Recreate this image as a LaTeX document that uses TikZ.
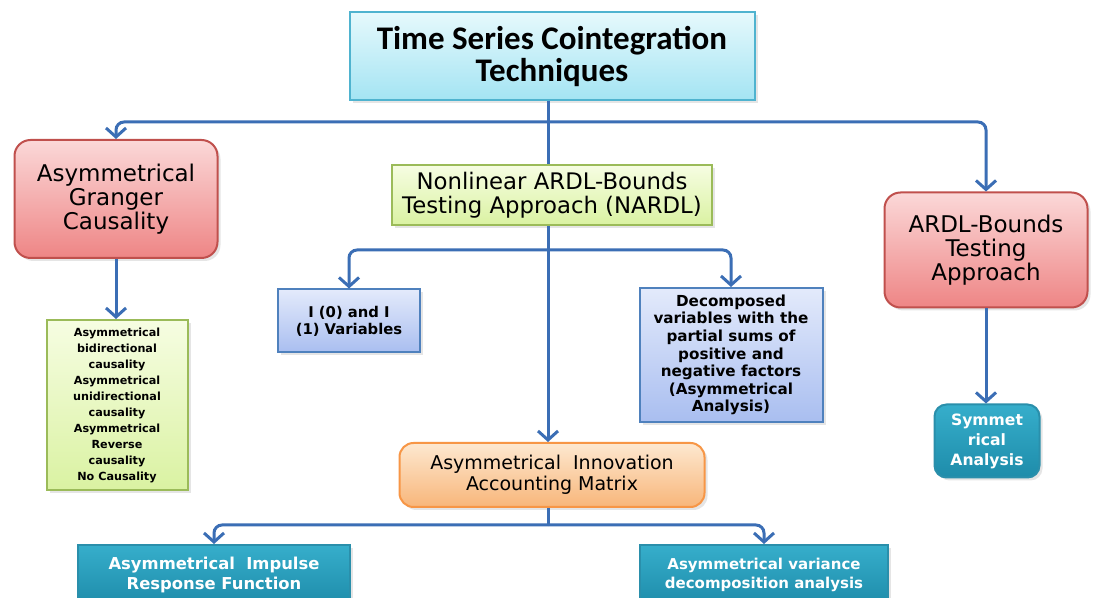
\documentclass[tikz,border=0pt]{standalone}
\usepackage{fontspec}
\setmainfont{DejaVu Sans}
\newfontfamily\headfont{Carlito}
\usepackage{xcolor}
\usetikzlibrary{arrows.meta,positioning,calc,shadows}
\definecolor{linkblue}{HTML}{3B6EB5}
\definecolor{headtop}{HTML}{E6F9FC}
\definecolor{headbot}{HTML}{A4E4F3}
\definecolor{headline}{HTML}{4FB3CF}
\definecolor{redtop}{HTML}{FBD8D8}
\definecolor{redbot}{HTML}{EE8585}
\definecolor{redline}{HTML}{C0504D}
\definecolor{greentop}{HTML}{F6FDE2}
\definecolor{greenbot}{HTML}{DAF2A2}
\definecolor{greenline}{HTML}{9BBB59}
\definecolor{bluetop}{HTML}{E3EAFB}
\definecolor{bluebot}{HTML}{A9BEF0}
\definecolor{blueline}{HTML}{4F81BD}
\definecolor{orangetop}{HTML}{FDE8D0}
\definecolor{orangebot}{HTML}{F8B67A}
\definecolor{orangeline}{HTML}{F79646}
\definecolor{tealtop}{HTML}{36AECB}
\definecolor{tealbot}{HTML}{1E8CAA}
\definecolor{tealline}{HTML}{2A8FAB}
\tikzset{
  box/.style={draw, line width=1pt, align=center, inner sep=2pt,
    drop shadow={opacity=0.2, shadow xshift=1.5pt, shadow yshift=-1.5pt}},
  headbox/.style={box, draw=headline, top color=headtop, bottom color=headbot,
    font=\headfont\bfseries\fontsize{16.5}{16}\selectfont},
  redbox/.style={box, draw=redline, top color=redtop, bottom color=redbot, rounded corners=8pt,
    font=\fontsize{11.5}{12}\selectfont},
  greenbox/.style={box, draw=greenline, top color=greentop, bottom color=greenbot},
  bluebox/.style={box, draw=blueline, top color=bluetop, bottom color=bluebot,
    font=\bfseries\fontsize{7.6}{8.8}\selectfont},
  orangebox/.style={box, draw=orangeline, top color=orangetop, bottom color=orangebot, rounded corners=7pt,
    font=\fontsize{9.5}{10.5}\selectfont},
  tealbox/.style={box, draw=tealline, top color=tealtop, bottom color=tealbot, text=white,
    font=\bfseries\fontsize{7.5}{9.5}\selectfont},
  link/.style={linkblue, line width=1.5pt, rounded corners=4pt},
  arrow/.style={link, -{Straight Barb[length=4.5pt,width=10pt]}},
}

\begin{document}
\begin{tikzpicture}[x=0.5pt, y=-0.5pt]
\clip (0,0) rectangle (1094,598);
\fill[white] (0,0) rectangle (1094,598);

% top level
\node[headbox, minimum width=202.5pt, minimum height=44pt] (title) at (552,56)
  {Time Series Cointegration\\Techniques};

% second row
\node[redbox, minimum width=101.5pt, minimum height=59pt] (granger) at (116,199)
  {Asymmetrical\\Granger\\Causality};
\node[greenbox, minimum width=160pt, minimum height=30pt,
  font=\fontsize{11.4}{12}\selectfont] (nardl) at (552,195)
  {Nonlinear ARDL-Bounds\\Testing Approach (NARDL)};
\node[redbox, minimum width=101.5pt, minimum height=57.5pt] (ardl) at (986,250)
  {ARDL-Bounds\\Testing\\Approach};

% third row
\node[greenbox, minimum width=70.5pt, minimum height=85pt,
  font=\bfseries\fontsize{5.6}{8}\selectfont] (causal) at (117,405)
  {Asymmetrical\\bidirectional\\causality\\Asymmetrical\\unidirectional\\causality\\Asymmetrical\\Reverse\\causality\\No Causality};
\node[bluebox, minimum width=71pt, minimum height=31.5pt,
  font=\bfseries\fontsize{7.4}{8.5}\selectfont] (intvar) at (349,321)
  {I (0) and I\\(1) Variables};
\node[bluebox, minimum width=91.5pt, minimum height=67pt] (decomp) at (731,355)
  {Decomposed\\variables with the\\partial sums of\\positive and\\negative factors\\(Asymmetrical\\Analysis)};
\node[tealbox, rounded corners=6pt, minimum width=52.5pt, minimum height=36.5pt,
  font=\bfseries\fontsize{7.8}{10}\selectfont] (symm) at (987,441)
  {Symmet\\rical\\Analysis};

% innovation accounting
\node[orangebox, minimum width=152.5pt, minimum height=32pt] (innov) at (552,475)
  {Asymmetrical~~Innovation\\Accounting Matrix};
\node[tealbox, minimum width=136pt, minimum height=30pt,
  font=\bfseries\fontsize{8.2}{10}\selectfont] (irf) at (214,575)
  {Asymmetrical~~Impulse\\Response Function};
\node[tealbox, minimum width=124pt, minimum height=30pt] (vda) at (764,575)
  {Asymmetrical variance\\decomposition analysis};

% connectors
\coordinate (split) at (548,122);
\coordinate (fork) at (548,250);
\coordinate (fork2) at (548,525);
\draw[link] (title.south -| split) -- (nardl.north -| split);
\draw[arrow] (split) -| (granger.north);
\draw[arrow] (split) -| (ardl.north);
\draw[arrow] (granger.south) -- (causal.north -| granger.south);
\draw[arrow] (ardl.south) -- (symm.north -| ardl.south);
\draw[arrow] (fork) -| (intvar.north);
\draw[arrow] (fork) -| (decomp.north);
\draw[arrow] (nardl.south -| split) -- (innov.north -| split);
\draw[link] (innov.south -| fork2) -- (fork2);
\draw[arrow] (fork2) -| (irf.north);
\draw[arrow] (fork2) -| (vda.north);
\end{tikzpicture}
\end{document}
